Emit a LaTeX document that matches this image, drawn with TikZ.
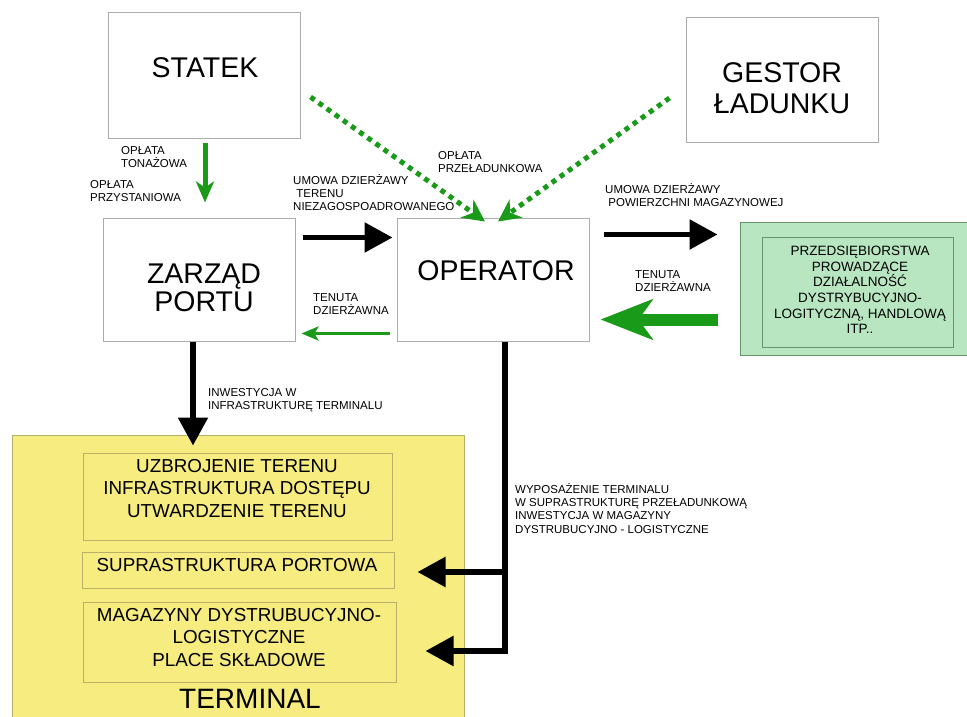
\documentclass[tikz,border=0pt]{standalone}
\usepackage{fontspec}
\setmainfont{Liberation Sans}
\usetikzlibrary{arrows.meta,calc,positioning}
\definecolor{arrgreen}{RGB}{25,155,25}
\definecolor{termyellow}{RGB}{246,236,128}
\definecolor{termedge}{RGB}{185,175,105}
\definecolor{firmgreen}{RGB}{184,230,192}
\definecolor{firmedge}{RGB}{100,150,110}
\tikzset{
  bigbox/.style={draw=gray!65, line width=1pt, fill=white, inner sep=0pt,
    minimum width=192pt, minimum height=123pt},
  bigtxt/.style={font=\fontsize{28.5}{31}\selectfont, align=center, inner sep=0pt},
  lbl/.style={font=\fontsize{11.5}{13.4}\selectfont, align=left, anchor=north west, inner sep=0pt},
  inbox/.style={draw=termedge, line width=1pt, inner sep=0pt},
  intxt/.style={font=\fontsize{18.8}{22.5}\selectfont, align=center, inner sep=0pt},
  blackarr/.style={line width=5.5pt, -{Triangle[length=28pt,width=29pt]}},
  greenarr/.style={draw=arrgreen, line width=5pt, -{Stealth[length=21pt,width=18pt,inset=6pt]}},
  dotarr/.style={draw=arrgreen, line width=5pt, dash pattern=on 5pt off 5pt,
    -{Stealth[length=22pt,width=22pt,inset=7pt]}}
}
\begin{document}
\begin{tikzpicture}[x=1pt,y=-1pt]
  \clip (0,0) rectangle (967,717);
  %% BOXES
  % statek
  \node[bigbox, minimum height=125pt] (statek) at (204,75.5) {};
  \node[bigtxt] (statektxt) at (205,68) {STATEK};
  % gestor ladunku
  \node[bigbox, minimum height=124pt] (gestor) at (782,80) {};
  \node[bigtxt] (gestortxt) at (782,88) {GESTOR\\ŁADUNKU};
  % zarzad portu
  \node[bigbox] (zarzad) at (199,279.5) {};
  \node[bigtxt, font=\fontsize{28.5}{28.5}\selectfont] (zarzadtxt) at (204,288) {ZARZĄD\\PORTU};
  % operator
  \node[bigbox] (operator) at (493,279.5) {};
  \node[bigtxt] (operatortxt) at (496,271) {OPERATOR};
  % przedsiebiorstwa
  \node[draw=firmedge, fill=firmgreen, line width=1pt, inner sep=0pt,
    minimum width=235pt, minimum height=133pt] (firm) at (857.5,288.5) {};
  \node[draw=firmedge, line width=0.8pt, inner sep=0pt,
    minimum width=191pt, minimum height=110pt] (firmin) at (857.5,292) {};
  \node[font=\fontsize{13.5}{15.6}\selectfont, align=center, inner sep=0pt] (firmtxt) at (860,290)
    {PRZEDSIĘBIORSTWA\\PROWADZĄCE\\DZIAŁALNOŚĆ\\DYSTRYBUCYJNO-\\LOGITYCZNĄ, HANDLOWĄ\\ITP..};
  % terminal
  \node[draw=termedge, fill=termyellow, line width=1pt, inner sep=0pt,
    minimum width=452pt, minimum height=300pt] (terminal) at (238,585) {};
  \node[inbox, minimum width=309pt, minimum height=87pt] (uzbrojenie) at (237.5,496.5) {};
  \node[intxt] (uzbrojenietxt) at (237,488.5) {UZBROJENIE TERENU\\INFRASTRUKTURA DOSTĘPU\\UTWARDZENIE TERENU};
  \node[inbox, minimum width=312pt, minimum height=36pt] (supra) at (238,570) {};
  \node[intxt] (supratxt) at (237,565) {SUPRASTRUKTURA PORTOWA};
  \node[inbox, minimum width=313pt, minimum height=80pt] (magazyny) at (239.5,642) {};
  \node[intxt] (magazynytxt) at (239,637.5) {MAGAZYNY DYSTRUBUCYJNO-\\LOGISTYCZNE\\PLACE SKŁADOWE};
  \node[bigtxt, font=\fontsize{28}{30}\selectfont] (terminaltxt) at (250,699) {TERMINAL};

  %% ARROWS
  \draw[greenarr] ($(statek.south)+(1,4)$) -- ($(zarzad.north)+(6,-15)$);
  \draw[blackarr] ($(zarzad.north east)+(7,20)$) -- ($(operator.north west)+(-4,20)$);
  \draw[dotarr] ($(statek.east)+(10,21.5)$) -- ($(operator.north)+(-8,4)$);
  \draw[dotarr] ($(gestor.west)+(-16,18)$) -- ($(operator.north)+(5,4)$);
  \draw[greenarr, line width=3.5pt, -{Stealth[length=17pt,width=14pt,inset=4pt]}]
    ($(operator.south west)+(-7,-8)$) -- ($(zarzad.south east)+(6,-8)$);
  \draw[blackarr] ($(operator.north east)+(14,17)$) -- ($(firm.north west)+(-22,13)$);
  \draw[greenarr, line width=12pt, -{Stealth[length=52pt,width=40pt,inset=14pt]}]
    ($(firm.north west)+(-22,98)$) -- ($(operator.north east)+(11,102)$);
  \draw[blackarr] ($(zarzad.south)+(-6,0)$) -- ($(terminal.north)+(-45,11)$);
  \draw[blackarr] ($(operator.south)+(12,0)$) |- ($(supra.east)+(23,2)$);
  \draw[blackarr] ($(operator.south)+(12,0)$) |- ($(magazyny.east)+(29,9)$);

  %% LABELS
  \node[lbl] (tonazowa) at (121,146) {OPŁATA\\TONAŻOWA};
  \node[lbl] (przystaniowa) at (90,180) {OPŁATA\\PRZYSTANIOWA};
  \node[lbl] (umowaterenu) at (293,174) {UMOWA DZIERŻAWY\\\ TERENU\\NIEZAGOSPOADROWANEGO};
  \node[lbl] (przeladunkowa) at (438,151) {OPŁATA\\PRZEŁADUNKOWA};
  \node[lbl] (umowamag) at (605,183) {UMOWA DZIERŻAWY\\\ POWIERZCHNI MAGAZYNOWEJ};
  \node[lbl] (tenutaprawa) at (635,270) {TENUTA\\DZIERŻAWNA};
  \node[lbl] (tenutalewa) at (313,293) {TENUTA\\DZIERŻAWNA};
  \node[lbl] (inwestycja) at (208,388) {INWESTYCJA W\\INFRASTRUKTURĘ TERMINALU};
  \node[lbl] (wyposazenie) at (515,483) {WYPOSAŻENIE TERMINALU\\W SUPRASTRUKTURĘ PRZEŁADUNKOWĄ\\INWESTYCJA W MAGAZYNY\\DYSTRUBUCYJNO - LOGISTYCZNE};
\end{tikzpicture}
\end{document}
